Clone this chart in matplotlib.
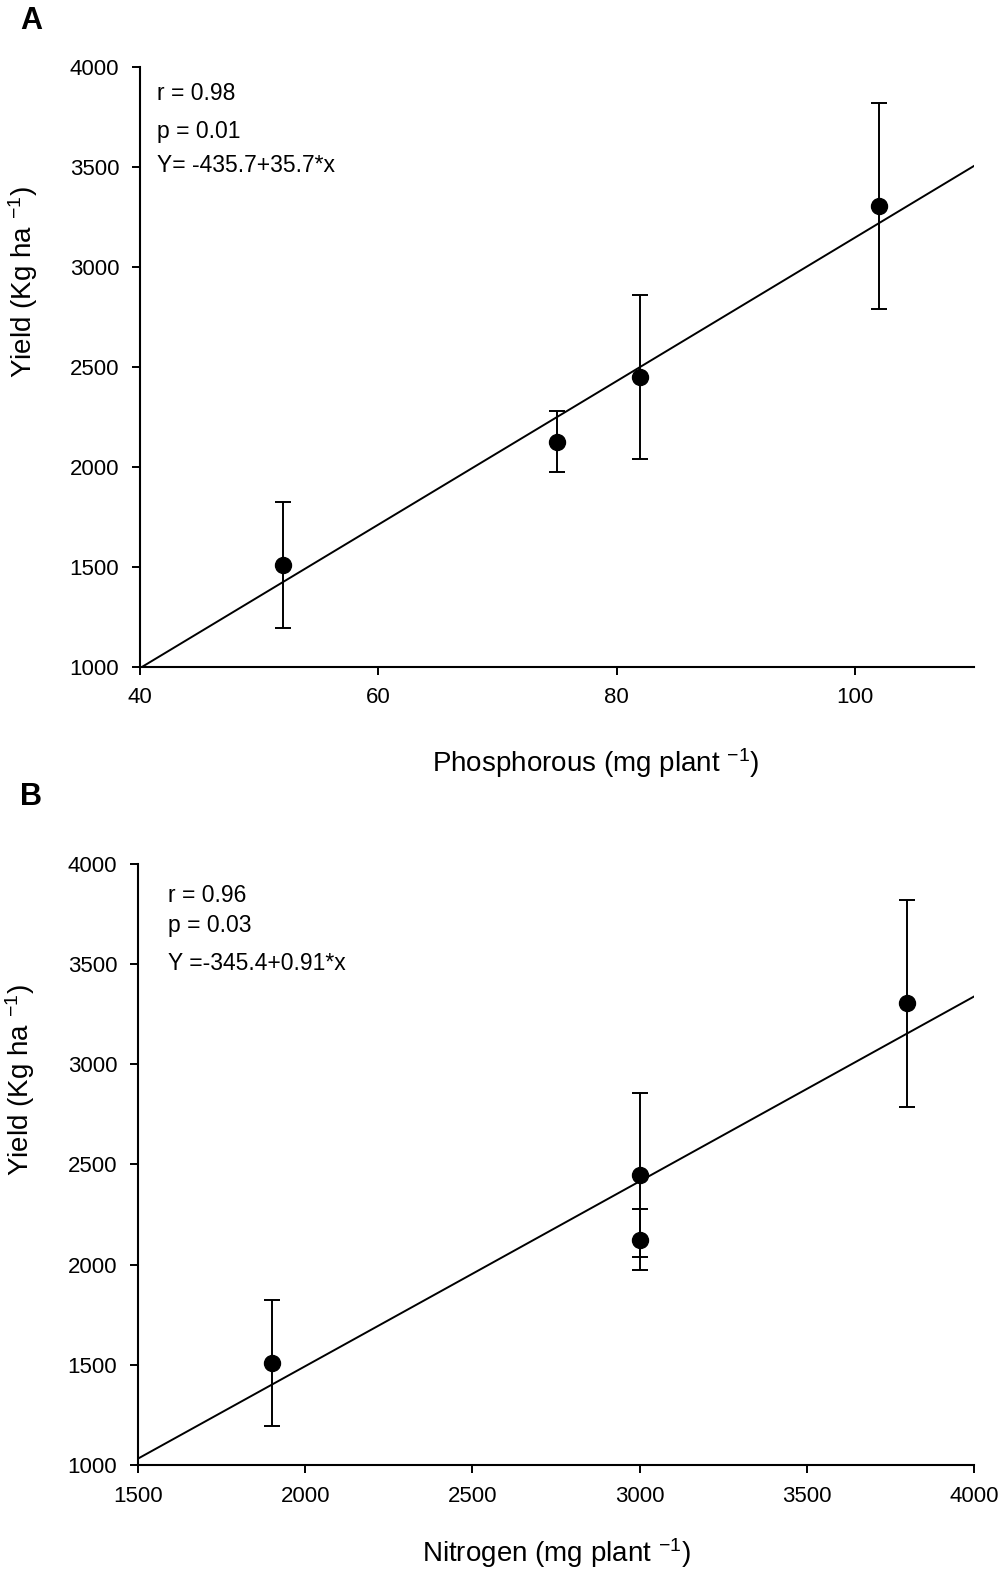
import numpy as np
import matplotlib
matplotlib.use("Agg")
import matplotlib.pyplot as plt

plt.rcParams['font.family'] = ['Liberation Sans', 'DejaVu Sans']
plt.rcParams['mathtext.fontset'] = 'custom'
plt.rcParams['mathtext.rm'] = 'Liberation Sans'
plt.rcParams['mathtext.it'] = 'Liberation Sans'

# data
yield_mean = [1510, 2125, 2447, 3304]
yield_err = [315, 152, 410, 515]
phosphorous = [52, 75, 82, 102]
nitrogen = [1900, 3000, 3000, 3800]

stats_a = ['r = 0.98', 'p = 0.01', 'Y= -435.7+35.7*x']
stats_b = ['r = 0.96', 'p = 0.03', 'Y =-345.4+0.91*x']


def panel(ax, x, xlim, xticks, xlabel, xlabel_pos, stats, text_x, text_ys):
    ax.errorbar(x, yield_mean, yerr=yield_err, fmt='o', color='black',
                markersize=11.5, capsize=6, elinewidth=1.4, capthick=1.4, zorder=3)
    # regression line fitted to the means
    slope, intercept = np.polyfit(x, yield_mean, 1)
    xs = np.array(xlim, dtype=float)
    ax.plot(xs, intercept + slope * xs, color='black', lw=1.4)

    ax.set_xlim(xlim)
    ax.set_ylim(1000, 4000)
    ax.set_xticks(xticks)
    ax.set_yticks(np.arange(1000, 4001, 500))
    for s in ['top', 'right']:
        ax.spines[s].set_visible(False)
    for s in ['left', 'bottom']:
        ax.spines[s].set_linewidth(1.5)
    ax.tick_params(direction='out', length=6, width=1.4, labelsize=16, pad=9)

    ax.set_xlabel(xlabel, fontsize=20)
    ax.xaxis.set_label_coords(*xlabel_pos)
    ax.xaxis.label.set_va('baseline')
    ax.set_ylabel('Yield (Kg ha $^{-1}$)', fontsize=20)
    ax.yaxis.set_label_coords(-0.13, 0.64)
    ax.yaxis.label.set_va('baseline')

    for t, ty in zip(stats, text_ys):
        ax.text(text_x, ty, t, fontsize=16.5, va='baseline', ha='left')


fig = plt.figure(figsize=(10, 15.7), dpi=100)
ax_a = fig.add_axes([0.140, 0.5754, 0.834, 0.3822])
ax_b = fig.add_axes([0.138, 0.0669, 0.836, 0.3828])

panel(ax_a, phosphorous, (40, 110), [40, 60, 80, 100],
      'Phosphorous (mg plant $^{-1}$)', (0.546, -0.175),
      stats_a, 41.4, [3833, 3643, 3473])
panel(ax_b, nitrogen, (1500, 4000), [1500, 2000, 2500, 3000, 3500, 4000],
      'Nitrogen (mg plant $^{-1}$)', (0.5, -0.161),
      stats_b, 1590, [3812, 3662, 3471])

fig.text(0.02, 0.9866, 'A', fontsize=22, fontweight='bold', va='center')
fig.text(0.02, 0.4924, 'B', fontsize=22, fontweight='bold', va='center')

fig.savefig('out.png', dpi=100)
